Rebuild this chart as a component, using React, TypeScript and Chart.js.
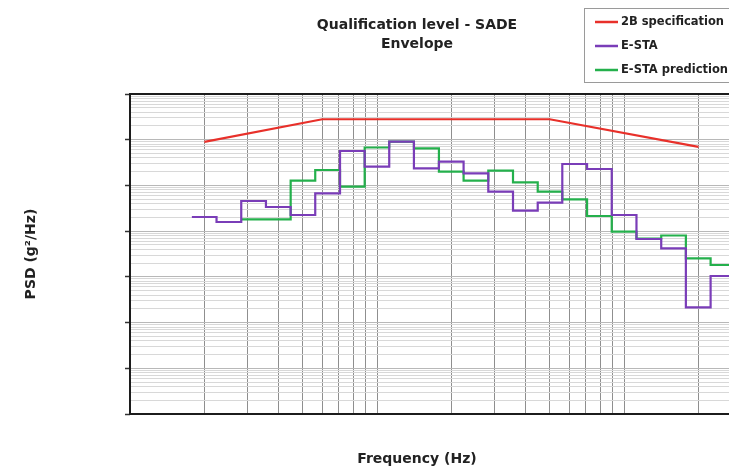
import React, { useEffect, useRef } from 'react';
import { Chart, registerables } from 'chart.js';

Chart.register(...registerables);

// ---- text ----
const titleLines = ['Qualification level - SADE', 'Envelope'];
const xAxisTitle = 'Frequency (Hz)';
const yAxisTitle = 'PSD (g²/Hz)';
const seriesNames = ['2B specification', 'E-STA', 'E-STA prediction'];

// ---- data ----
// 1/3-octave band edges (Hz), bands centred 20 Hz ... 2500 Hz
const bandEdgesHz = [17.8, 22.4, 28.2, 35.5, 44.7, 56.2, 70.8, 89.1, 112, 141, 178, 224, 282, 355, 447, 562, 708, 891, 1122, 1413, 1778, 2239, 2818];

// 2B specification (straight segments)
const specFreqHz = [20, 60, 500, 2000];
const specPsd = [0.09, 0.28, 0.28, 0.07];

// E-STA measured level per band (20 Hz ... 2500 Hz)
const eStaPsd = [2.04e-3, 1.585e-3, 4.565e-3, 3.374e-3, 2.254e-3, 6.728e-3, 0.0566, 0.02569, 0.0905, 0.0237, 0.03304, 0.01842, 7.29e-3, 2.8e-3, 4.19e-3, 0.02943, 0.02288, 2.254e-3, 6.73e-4, 4.21e-4, 2.16e-5, 1.044e-4];

// E-STA prediction per band (31.5 Hz ... 2500 Hz)
const predictionFirstBand = 2;
const predictionPsd = [1.816e-3, 1.816e-3, 0.01269, 0.02175, 9.38e-3, 0.0676, 0.0905, 0.0649, 0.01997, 0.01269, 0.021, 0.0117, 7.29e-3, 4.97e-3, 2.144e-3, 9.72e-4, 6.9e-4, 8.03e-4, 2.546e-4, 1.817e-4];

// ---- axes ----
const xMin = 10;
const xMax = 3000;
const xGridHz = [20, 30, 40, 50, 60, 70, 80, 90, 100, 200, 300, 400, 500, 600, 700, 800, 900, 1000, 2000, 3000];
const yMin = 1e-7;
const yMax = 1;
const yDecades = [1e-7, 1e-6, 1e-5, 1e-4, 1e-3, 1e-2, 1e-1, 1];
const yMinorMultipliers = [2, 3, 4, 5, 6, 7, 8, 9];

const colors = { spec: '#e8302a', esta: '#7a3db8', pred: '#24b04c' };
const FONT = "'DejaVu Sans', 'Liberation Sans', sans-serif";

function stepPoints(edges: number[], levels: number[]) {
  const pts = levels.map((y, i) => ({ x: edges[i], y }));
  pts.push({ x: edges[levels.length], y: levels[levels.length - 1] });
  return pts;
}

function isDecade(v: number) {
  const l = Math.log10(v);
  return Math.abs(l - Math.round(l)) < 1e-6;
}

const plotFrame = {
  id: 'plotFrame',
  beforeDatasetsDraw(chart: any) {
    const { ctx, chartArea } = chart;
    const { left, top, right, bottom } = chartArea;
    ctx.save();
    ctx.strokeStyle = '#1c1c1c';
    ctx.lineWidth = 2;
    ctx.strokeRect(left, top, right - left, bottom - top);
    ctx.restore();
  },
};

const boxLegend = {
  id: 'boxLegend',
  afterDraw(chart: any) {
    const { ctx } = chart;
    ctx.save();
    ctx.fillStyle = '#ffffff';
    ctx.strokeStyle = '#9a9a9a';
    ctx.lineWidth = 1;
    ctx.fillRect(584.5, 8.5, 170, 74);
    ctx.strokeRect(584.5, 8.5, 170, 74);
    chart.data.datasets.forEach((ds: any, i: number) => {
      const y = 22 + i * 24;
      ctx.strokeStyle = ds.borderColor;
      ctx.lineWidth = 2.5;
      ctx.beginPath();
      ctx.moveTo(595, y);
      ctx.lineTo(618, y);
      ctx.stroke();
      ctx.fillStyle = '#222';
      ctx.font = `bold 11.5px ${FONT}`;
      ctx.textBaseline = 'middle';
      ctx.textAlign = 'left';
      ctx.fillText(ds.label, 621, y);
    });
    ctx.restore();
  },
};

export default function App() {
  const ref = useRef<HTMLCanvasElement | null>(null);

  useEffect(() => {
    if (!ref.current) return;
    const yTicks: number[] = [];
    yDecades.forEach((d) => {
      yTicks.push(d);
      if (d < yMax) yMinorMultipliers.forEach((m) => yTicks.push(d * m));
    });

    const chart = new Chart(ref.current, {
      type: 'line',
      data: {
        datasets: [
          {
            label: seriesNames[0],
            data: specFreqHz.map((x, i) => ({ x, y: specPsd[i] })),
            borderColor: colors.spec,
            borderWidth: 2.2,
            pointRadius: 0,
            fill: false,
          },
          {
            label: seriesNames[1],
            data: stepPoints(bandEdgesHz, eStaPsd),
            borderColor: colors.esta,
            borderWidth: 2.2,
            pointRadius: 0,
            stepped: 'before',
            fill: false,
          },
          {
            label: seriesNames[2],
            data: stepPoints(bandEdgesHz.slice(predictionFirstBand), predictionPsd),
            borderColor: colors.pred,
            borderWidth: 2.2,
            pointRadius: 0,
            stepped: 'before',
            fill: false,
          },
        ],
      },
      options: {
        responsive: false,
        devicePixelRatio: 1,
        animation: false,
        layout: { padding: 0 },
        plugins: {
          legend: { display: false },
          tooltip: { enabled: false },
          title: {
            display: true,
            text: titleLines,
            color: '#222',
            font: { family: FONT, size: 14, weight: 'bold', lineHeight: 19 / 14 },
            padding: { top: 15.5, bottom: 40.5 },
          },
          subtitle: {
            display: true,
            position: 'bottom',
            text: xAxisTitle,
            color: '#222',
            font: { family: FONT, size: 14, weight: 'bold', lineHeight: 1.2 },
            padding: { top: 36.6, bottom: 0.6 },
          },
        },
        scales: {
          x: {
            type: 'logarithmic',
            min: xMin,
            max: xMax,
            position: 'bottom',
            afterBuildTicks: (scale: any) => {
              scale.ticks = xGridHz.map((v) => ({ value: v }));
            },
            ticks: { display: false },
            grid: { color: '#8f8f8f', lineWidth: 1, drawTicks: false },
            border: { display: false },
            title: { display: false },
          },
          y: {
            type: 'logarithmic',
            min: yMin,
            max: yMax,
            position: 'left',
            afterBuildTicks: (scale: any) => {
              scale.ticks = yTicks.map((v) => ({ value: v }));
            },
            afterFit: (scale: any) => {
              scale.width = 130;
            },
            ticks: { display: false },
            grid: {
              color: (c: any) => (c.tick && isDecade(c.tick.value) ? '#b8b8b8' : '#d8d8d8'),
              lineWidth: 1,
              drawTicks: true,
              tickLength: 5,
              tickWidth: 1.5,
              tickColor: (c: any) => (c.tick && isDecade(c.tick.value) ? '#333' : 'rgba(0,0,0,0)'),
            },
            border: { display: false },
            title: {
              display: true,
              text: yAxisTitle,
              color: '#222',
              font: { family: FONT, size: 14, weight: 'bold', lineHeight: 1.2 },
              padding: { top: 22.6, bottom: 0 },
            },
          },
          yRightSpace: {
            type: 'linear',
            position: 'right',
            display: true,
            afterFit: (scale: any) => {
              scale.width = 92;
            },
            ticks: { display: false },
            grid: { display: false, drawTicks: false },
            border: { display: false },
          },
        },
      } as any,
      plugins: [plotFrame, boxLegend],
    });
    return () => chart.destroy();
  }, []);

  return (
    <div style={{ position: 'fixed', left: 0, top: 0, width: 729, height: 468, overflow: 'hidden', background: '#fff' }}>
      <canvas ref={ref} width={834} height={468} style={{ display: 'block', width: 834, height: 468 }} />
    </div>
  );
}
